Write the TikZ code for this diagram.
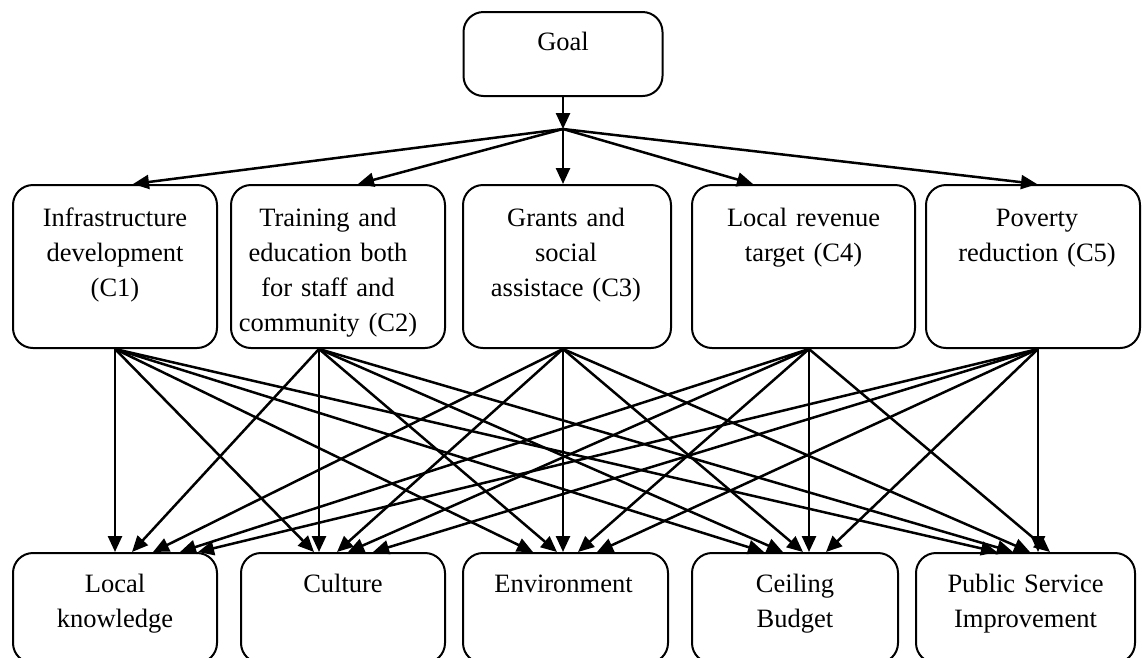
\documentclass[tikz,border=0pt]{standalone}
\usepackage{fontspec}
\setmainfont{Liberation Serif}
\usetikzlibrary{arrows.meta}
\begin{document}
\begin{tikzpicture}[x=1pt,y=-1pt,
  box/.style={draw, line width=2pt, rounded corners=20pt, inner sep=0pt},
  lbl/.style={font=\fontsize{26.5}{35}\selectfont, align=center, anchor=base, inner sep=0pt, text width=#1},
  lbl/.default=220pt,
  arr/.style={line width=2.5pt, -{Triangle[length=16pt,width=14pt]}}]
\useasboundingbox (0,0) rectangle (1142,657);
% goal
\node[box, minimum width=199pt, minimum height=84pt] (G) at (563,54) {};
\node[lbl] (Gt) at ([yshift=-39pt]G.north) {Goal};
\coordinate (J) at (563,129);
% criteria
\node[box, minimum width=204pt, minimum height=163pt] (C1) at (115,266.5) {};
\node[box, minimum width=214pt, minimum height=163pt] (C2) at (338,266.5) {};
\node[box, minimum width=208pt, minimum height=163pt] (C3) at (567,266.5) {};
\node[box, minimum width=223pt, minimum height=163pt] (C4) at (803.5,266.5) {};
\node[box, minimum width=214pt, minimum height=163pt] (C5) at (1033,266.5) {};
\node[lbl] (C1t) at ([yshift=-42pt]C1.north) {Infrastructure\\development\\(C1)};
\node[lbl] (C2t) at ([xshift=-10pt,yshift=-42pt]C2.north) {Training and\\education both\\for staff and\\community (C2)};
\node[lbl] (C3t) at ([xshift=-1pt,yshift=-42pt]C3.north) {Grants and\\social\\assistace (C3)};
\node[lbl] (C4t) at ([yshift=-42pt]C4.north) {Local revenue\\target (C4)};
\node[lbl] (C5t) at ([xshift=4pt,yshift=-42pt]C5.north) {Poverty\\reduction (C5)};
% alternatives
\node[box, minimum width=204pt, minimum height=110pt] (LK) at (115,608) {};
\node[box, minimum width=204pt, minimum height=110pt] (Cu) at (343,608) {};
\node[box, minimum width=205pt, minimum height=110pt] (En) at (565.5,608) {};
\node[box, minimum width=206pt, minimum height=110pt] (Ce) at (795,608) {};
\node[box, minimum width=219pt, minimum height=110pt] (PS) at (1025.5,608) {};
\node[lbl] (LKt) at ([yshift=-40pt]LK.north) {Local\\knowledge};
\node[lbl] (Cut) at ([yshift=-40pt]Cu.north) {Culture};
\node[lbl] (Ent) at ([xshift=-2pt,yshift=-40pt]En.north) {Environment};
\node[lbl] (Cet) at ([yshift=-40pt]Ce.north) {Ceiling\\Budget};
\node[lbl] (PSt) at ([yshift=-40pt]PS.north) {Public Service\\Improvement};
% goal arrows
\draw[arr] (G.south) -- (J);
\draw[arr] (J) -- ([xshift=18pt]C1.north);
\draw[arr] (J) -- ([xshift=20pt]C2.north);
\draw[arr] (J) -- ([xshift=-4pt]C3.north);
\draw[arr] (J) -- ([xshift=-50.5pt]C4.north);
\draw[arr] (J) -- ([xshift=4pt]C5.north);
% criteria to alternatives
\foreach \c/\oc/\a/\ta in {
  C1/0/LK/0, C1/0/Cu/-29, C1/0/En/-32.5, C1/0/Ce/-31, C1/0/PS/-28.5,
  C2/-19/LK/17, C2/-19/Cu/-24, C2/-19/En/-8.5, C2/-19/Ce/-12, C2/-19/PS/-12.5,
  C3/-4/LK/38, C3/-4/Cu/-6, C3/-4/En/-2.5, C3/-4/Ce/8, C3/-4/PS/4.5,
  C4/5.5/LK/65, C4/5.5/Cu/5, C4/5.5/En/12.5, C4/5.5/Ce/14, C4/5.5/PS/24.5,
  C5/5/LK/83, C5/5/Cu/30, C5/5/En/31.5, C5/5/Ce/31, C5/5/PS/12.5}
  \draw[arr] ([xshift=\oc pt]\c.south) -- ([xshift=\ta pt]\a.north);
\end{tikzpicture}
\end{document}
